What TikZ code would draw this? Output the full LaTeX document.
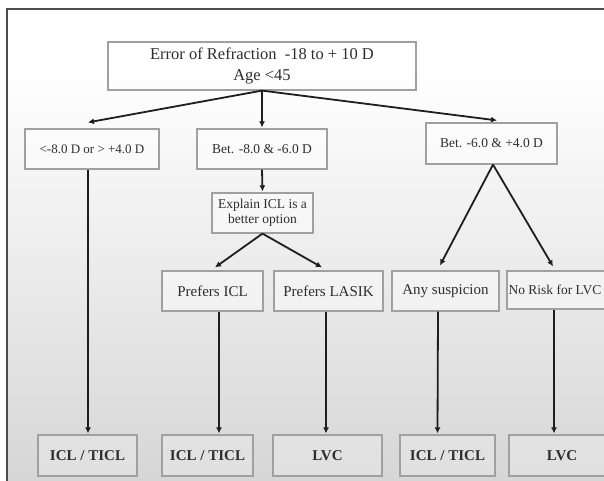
\documentclass[tikz,border=0pt]{standalone}
\usepackage{fontspec}
\setmainfont{Liberation Serif}
\usepackage{tikz}
\usetikzlibrary{arrows.meta}
\usepackage{xcolor}
\definecolor{boxline}{HTML}{A0A0A0}
\definecolor{ink}{HTML}{2E2E2E}
\definecolor{arrowink}{HTML}{1E1E1E}

\begin{document}
\begin{tikzpicture}[x=1pt,y=-1pt,
  box/.style={draw=boxline, line width=1.2pt, fill=white, fill opacity=0.45, text opacity=1,
    text=ink, inner sep=0pt, align=center},
  endbox/.style={box, fill=gray!15, font=\fontsize{15}{18}\selectfont\bfseries},
  arr/.style={arrowink, line width=1.8pt, -{Latex[length=6pt,width=6pt]}}]
\useasboundingbox (0,0) rectangle (604,481);
% frame and background
\fill [white] (0,0) rectangle (604,481);
\shade [top color=white, bottom color=gray!32] (7,70) rectangle (604,481);
\draw [line width=1.6pt, gray!60!black] (7,481) -- (7,9) -- (604,9);

\node [box, minimum width=308, minimum height=48, font=\fontsize{16.5}{21}\selectfont] (top) at (262,66) {Error of Refraction \ -18 to + 10 D\\Age <45};

\node [box, minimum width=134, minimum height=40, font=\fontsize{13}{15}\selectfont] (low) at (92,149) {<-8.0 D or > +4.0 D};
\node [box, minimum width=130, minimum height=40, font=\fontsize{13.5}{15}\selectfont] (mid) at (262,149) {Bet. -8.0 \& -6.0 D};
\node [box, minimum width=131, minimum height=41, font=\fontsize{13.5}{15}\selectfont] (high) at (491.5,143.5) {Bet. -6.0 \& +4.0 D};

\node [box, minimum width=101, minimum height=40, font=\fontsize{13.5}{15}\selectfont] (explain) at (262.5,213) {Explain ICL is a\\better option};

\node [box, minimum width=101, minimum height=40, font=\fontsize{15}{18}\selectfont] (picl) at (212.5,291) {Prefers ICL};
\node [box, minimum width=109, minimum height=40, font=\fontsize{15}{18}\selectfont] (plasik) at (328.5,291) {Prefers LASIK};
\node [box, minimum width=107, minimum height=40, font=\fontsize{15}{18}\selectfont] (susp) at (445.5,291) {Any suspicion};
\node [box, minimum width=108, minimum height=38, font=\fontsize{13.5}{18}\selectfont] (norisk) at (561,290) {No Risk for LVC\hspace{12pt}};

\node [endbox, minimum width=99, minimum height=41] (b1) at (87.5,455.5) {ICL / TICL};
\node [endbox, minimum width=91, minimum height=41] (b2) at (207.5,455.5) {ICL / TICL};
\node [endbox, minimum width=109, minimum height=41] (b3) at (327.5,455.5) {LVC};
\node [endbox, minimum width=95, minimum height=41] (b4) at (447.5,455.5) {ICL / TICL};
\node [endbox, minimum width=106, minimum height=41] (b5) at (562,455.5) {LVC};

% from the top box
\draw [arr] (top.south) -- ([xshift=-4pt, yshift=6pt]low.north);
\draw [arr] (top.south) -- ([yshift=1pt]mid.north);
\draw [arr] (top.south) -- ([xshift=5.5pt, yshift=2pt]high.north);
% middle branch
\draw [arr] (mid.south) -- ([yshift=1pt]explain.north);
\draw [arr] (explain.south) -- ([xshift=2.5pt, yshift=3pt]picl.north);
\draw [arr] (explain.south) -- ([xshift=-6.5pt, yshift=3pt]plasik.north);
% right branch
\draw [arr] ([xshift=1.5pt]high.south) -- ([xshift=-5.5pt, yshift=5pt]susp.north);
\draw [arr] ([xshift=1.5pt]high.south) -- ([xshift=-8pt, yshift=4pt]norisk.north);
% down to the results
\draw [arr] ([xshift=-4pt]low.south) -- ([xshift=0.5pt, yshift=1pt]b1.north);
\draw [arr] ([xshift=6.5pt]picl.south) -- ([xshift=11.5pt, yshift=1pt]b2.north);
\draw [arr] ([xshift=-2.5pt]plasik.south) -- ([xshift=-1.5pt, yshift=1pt]b3.north);
\draw [arr] ([xshift=-7.5pt]susp.south) -- ([xshift=-10pt, yshift=1pt]b4.north);
\draw [arr] ([xshift=-7pt]norisk.south) -- ([xshift=-8pt, yshift=1pt]b5.north);

\end{tikzpicture}
\end{document}
